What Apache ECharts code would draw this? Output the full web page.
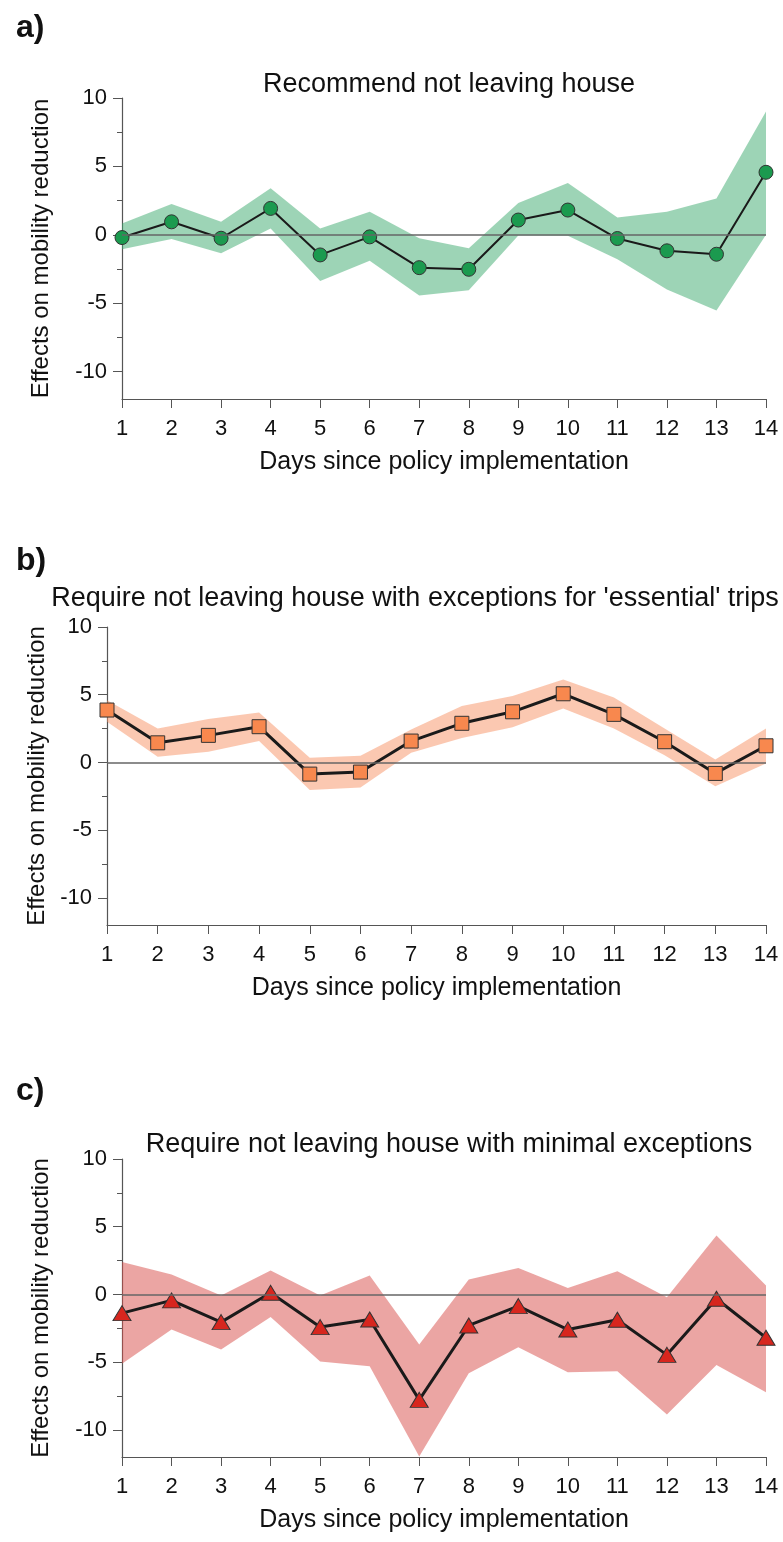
<!DOCTYPE html>
<html>
<head>
<meta charset="utf-8">
<script src="https://cdn.jsdelivr.net/npm/echarts@6/dist/echarts.min.js"></script>
<style>
  html, body { margin: 0; padding: 0; background: #fff; }
  #chart { width: 783px; height: 1542px; }
</style>
</head>
<body>
<div id="chart"></div>
<script>
const days = ['1', '2', '3', '4', '5', '6', '7', '8', '9', '10', '11', '12', '13', '14']
const yLabelTicks = [-10, -5, 0, 5, 10]
const yMinorTicks = [-7.5, -2.5, 2.5, 7.5]

const titles = [
  'Recommend not leaving house',
  "Require not leaving house with exceptions for 'essential' trips",
  'Require not leaving house with minimal exceptions',
]
const panelLabels = ['a)', 'b)', 'c)']

// a) recommend not leaving house
const recommendMean = [-0.2, 0.95, -0.25, 1.93, -1.47, -0.15, -2.4, -2.52, 1.08, 1.81, -0.27, -1.17, -1.42, 4.57]
const recommendLower = [-1.05, -0.3, -1.35, 0.46, -3.37, -1.9, -4.43, -4.06, -0.05, -0.07, -1.78, -3.99, -5.53, 0.0]
const recommendUpper = [0.83, 2.25, 0.95, 3.4, 0.46, 1.69, -0.25, -0.98, 2.32, 3.79, 1.27, 1.69, 2.66, 9.02]

// b) require, exceptions for essential trips
const essentialMean = [3.87, 1.45, 2.0, 2.64, -0.86, -0.71, 1.58, 2.89, 3.74, 5.07, 3.55, 1.53, -0.81, 1.23]
const essentialLower = [3.0, 0.42, 0.79, 1.58, -2.04, -1.85, 0.71, 1.8, 2.59, 3.99, 2.5, 0.54, -1.75, -0.07]
const essentialUpper = [4.6, 2.5, 3.2, 3.69, 0.34, 0.49, 2.44, 4.17, 4.9, 6.13, 4.8, 2.5, 0.22, 2.5]

// c) require, minimal exceptions
const minimalMean = [-1.38, -0.44, -2.04, 0.12, -2.41, -1.85, -7.78, -2.29, -0.86, -2.59, -1.87, -4.46, -0.32, -3.2]
const minimalLower = [-5.12, -2.59, -4.06, -1.67, -4.95, -5.3, -11.97, -5.81, -3.89, -5.74, -5.67, -8.87, -5.2, -7.22]
const minimalUpper = [2.39, 1.48, -0.07, 1.77, -0.07, 1.4, -3.69, 1.11, 1.95, 0.47, 1.72, -0.2, 4.36, 0.66]

const font = '"Liberation Sans", Arial, sans-serif'
const axisColor = '#555'

const panels = [
  {
    mean: recommendMean, lower: recommendLower, upper: recommendUpper,
    band: 'rgba(60, 170, 110, 0.5)', marker: '#1b9a4f', symbol: 'circle', symbolSize: 14, lineWidth: 2,
    grid: { left: 122, top: 98, height: 301 }, nameGap: 69,
    titleTop: 66, titleLeft: 444, labelTop: 7,
  },
  {
    mean: essentialMean, lower: essentialLower, upper: essentialUpper,
    band: 'rgba(247, 145, 100, 0.5)', marker: '#f8884e', symbol: 'rect', symbolSize: 14, lineWidth: 3,
    grid: { left: 107, top: 627, height: 298 }, nameGap: 54,
    titleTop: 580, titleLeft: 410, labelTop: 540,
  },
  {
    mean: minimalMean, lower: minimalLower, upper: minimalUpper,
    band: 'rgba(216, 75, 72, 0.5)', marker: '#d7261e', symbol: 'triangle', symbolSize: [18, 15], lineWidth: 3,
    grid: { left: 122, top: 1159, height: 298 }, nameGap: 69,
    titleTop: 1126, titleLeft: 444, labelTop: 1070,
  },
]

const chart = echarts.init(document.getElementById('chart'))

const title = []
const grid = []
const xAxis = []
const yAxis = []
const series = []

panels.forEach((p, i) => {
  title.push({
    text: panelLabels[i], left: 11, top: p.labelTop,
    textStyle: { fontFamily: font, fontSize: 32, fontWeight: 'bold', color: '#111' },
  })
  title.push({
    text: titles[i], left: p.titleLeft, top: p.titleTop, textAlign: 'center',
    textStyle: { fontFamily: font, fontSize: 27, fontWeight: 'normal', color: '#111' },
  })
  grid.push({ left: p.grid.left, right: 17, top: p.grid.top, height: p.grid.height })

  xAxis.push({
    type: 'category', gridIndex: i, data: days, boundaryGap: false,
    name: 'Days since policy implementation', nameLocation: 'middle', nameGap: 51,
    nameTextStyle: { fontFamily: font, fontSize: 25, color: '#111' },
    axisLine: { onZero: false, lineStyle: { color: axisColor, width: 1.2 } },
    axisTick: { alignWithLabel: true, length: 9, lineStyle: { color: axisColor } },
    axisLabel: { margin: 19, fontFamily: font, fontSize: 22, color: '#111' },
    splitLine: { show: false },
  })
  yAxis.push({
    type: 'value', gridIndex: i, position: 'left', min: -12, max: 10,
    name: 'Effects on mobility reduction', nameLocation: 'middle', nameGap: p.nameGap, nameRotate: 90,
    nameTextStyle: { fontFamily: font, fontSize: 24, color: '#111' },
    axisLine: { show: true, onZero: false, lineStyle: { color: axisColor, width: 1.2 } },
    axisTick: { show: true, length: 9, customValues: yLabelTicks, lineStyle: { color: axisColor } },
    axisLabel: { margin: 15, customValues: yLabelTicks, fontFamily: font, fontSize: 22, color: '#111' },
    splitLine: { show: false },
  })
  yAxis.push({
    type: 'value', gridIndex: i, position: 'left', offset: 0, min: -12, max: 10,
    axisLine: { show: false, onZero: false },
    axisTick: { show: true, length: 5, customValues: yMinorTicks, lineStyle: { color: axisColor } },
    axisLabel: { show: false },
    splitLine: { show: false },
  })

  const yIdx = i * 2
  const stack = 'band' + i
  series.push({
    type: 'line', xAxisIndex: i, yAxisIndex: yIdx, data: p.lower,
    stack, stackStrategy: 'all', symbol: 'none', lineStyle: { opacity: 0 }, z: 1, silent: true,
    markLine: {
      silent: true, symbol: 'none', label: { show: false },
      lineStyle: { color: '#666', width: 1.5, type: 'solid' },
      data: [{ yAxis: 0 }],
    },
  })
  series.push({
    type: 'line', xAxisIndex: i, yAxisIndex: yIdx,
    data: p.upper.map((v, k) => +(v - p.lower[k]).toFixed(3)),
    stack, stackStrategy: 'all', symbol: 'none', lineStyle: { opacity: 0 },
    areaStyle: { color: p.band, opacity: 1 }, z: 2, silent: true,
  })
  series.push({
    type: 'line', xAxisIndex: i, yAxisIndex: yIdx, data: p.mean,
    symbol: p.symbol, symbolSize: p.symbolSize, showAllSymbol: true,
    lineStyle: { color: '#1a1a1a', width: p.lineWidth },
    itemStyle: { color: p.marker, borderColor: '#333', borderWidth: 1 },
    z: 3,
  })
})

chart.setOption({
  animation: false,
  backgroundColor: '#fff',
  title,
  grid,
  xAxis,
  yAxis,
  series,
})
</script>
</body>
</html>
